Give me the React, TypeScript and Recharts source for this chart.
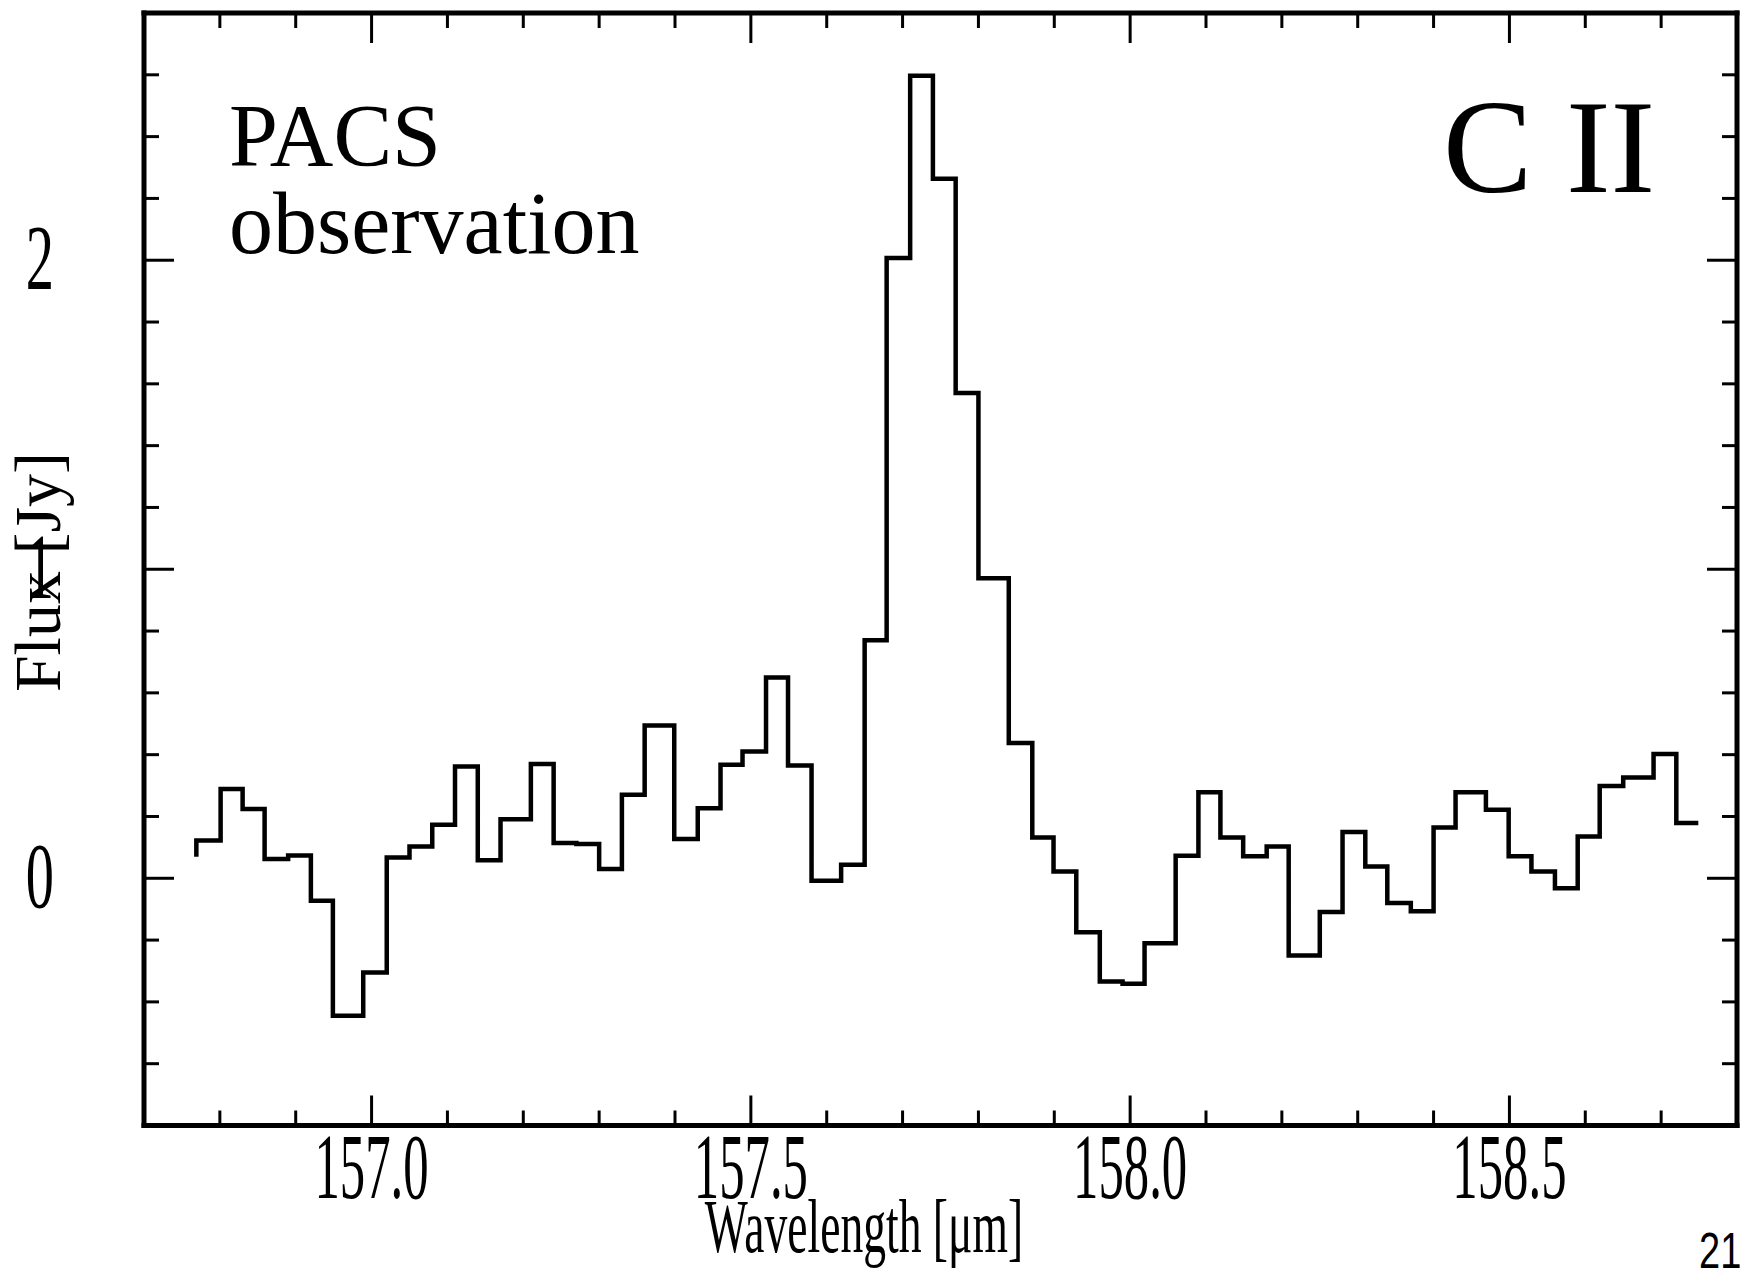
import React from 'react';
import { LineChart, Line, XAxis, YAxis } from 'recharts';

// bin edges of the PACS spectrum [µm]
const wavelengths: number[] = [
  156.769, 156.801, 156.830, 156.859, 156.890, 156.920, 156.949, 156.989, 157.020, 157.050,
  157.080, 157.110, 157.140, 157.170, 157.210, 157.240, 157.270, 157.300, 157.330, 157.360,
  157.399, 157.430, 157.460, 157.489, 157.520, 157.549, 157.580, 157.619, 157.650, 157.679,
  157.710, 157.740, 157.770, 157.800, 157.840, 157.871, 157.899, 157.929, 157.960, 157.990,
  158.019, 158.060, 158.090, 158.119, 158.149, 158.180, 158.209, 158.250, 158.280, 158.310,
  158.339, 158.370, 158.400, 158.429, 158.469, 158.499, 158.529, 158.560, 158.590, 158.619,
  158.650, 158.690, 158.720, 158.749,
];

// flux [Jy], level of each step (drawn step-before)
const flux: number[] = [
  0.070, 0.122, 0.289, 0.224, 0.062, 0.074, -0.073, -0.445, -0.305, 0.067,
  0.103, 0.173, 0.362, 0.058, 0.191, 0.370, 0.114, 0.111, 0.030, 0.270,
  0.494, 0.127, 0.227, 0.367, 0.410, 0.650, 0.365, -0.008, 0.044, 0.770,
  2.007, 2.597, 2.264, 1.570, 0.971, 0.438, 0.132, 0.022, -0.175, -0.334,
  -0.341, -0.210, 0.073, 0.278, 0.132, 0.071, 0.103, -0.250, -0.109, 0.150,
  0.038, -0.080, -0.107, 0.164, 0.278, 0.222, 0.071, 0.022, -0.032, 0.135,
  0.299, 0.326, 0.402, 0.179,
];

const xTicks: number[] = [
  156.8, 156.9, 157.0, 157.1, 157.2, 157.3, 157.4, 157.5, 157.6, 157.7,
  157.8, 157.9, 158.0, 158.1, 158.2, 158.3, 158.4, 158.5, 158.6, 158.7,
];
const xMajorTicks: number[] = [157.0, 157.5, 158.0, 158.5];
const xMajorLabels: string[] = ['157.0', '157.5', '158.0', '158.5'];

const yTicks: number[] = [
  -0.6, -0.4, -0.2, 0, 0.2, 0.4, 0.6, 0.8, 1.0, 1.2, 1.4, 1.6, 1.8, 2.0, 2.2, 2.4, 2.6,
];
const yMajorTicks: number[] = [0, 1, 2];
const yMajorLabels: string[] = ['0', '1', '2'];

const data = wavelengths.map((wl, i) => ({ wl, flux: flux[i] }));

const SERIF = "'Liberation Serif', 'Times New Roman', Times, serif";
const MAJOR = 30;
const MINOR = 15;
// tick numbers are tall and narrow in the original
const TICK_FONT = 94;
const X_SQUEEZE = 0.54;
const Y_SQUEEZE = 0.6;

const majorIndex = (list: number[], v: number) =>
  list.findIndex((m) => Math.abs(m - v) < 1e-6);

const BottomTick = (props: any) => {
  const { x, y, payload } = props;
  const k = majorIndex(xMajorTicks, payload.value);
  return (
    <g>
      <line x1={x} x2={x} y1={y} y2={y - (k >= 0 ? MAJOR : MINOR)} stroke="#000" strokeWidth={3} />
      {k >= 0 && (
        <text
          transform={`translate(${x},${y + 72}) scale(${X_SQUEEZE},1)`}
          textAnchor="middle"
          fontSize={TICK_FONT}
          fontFamily={SERIF}
          fill="#000"
        >
          {xMajorLabels[k]}
        </text>
      )}
    </g>
  );
};

const TopTick = (props: any) => {
  const { x, y, payload } = props;
  const k = majorIndex(xMajorTicks, payload.value);
  return <line x1={x} x2={x} y1={y} y2={y + (k >= 0 ? MAJOR : MINOR)} stroke="#000" strokeWidth={3} />;
};

const LeftTick = (props: any) => {
  const { x, y, payload } = props;
  const k = majorIndex(yMajorTicks, payload.value);
  return (
    <g>
      <line x1={x} x2={x + (k >= 0 ? MAJOR : MINOR)} y1={y} y2={y} stroke="#000" strokeWidth={3} />
      {k >= 0 && (
        <text
          transform={`translate(${x - 90},${y + 29}) scale(${Y_SQUEEZE},1)`}
          textAnchor="end"
          fontSize={TICK_FONT}
          fontFamily={SERIF}
          fill="#000"
        >
          {yMajorLabels[k]}
        </text>
      )}
    </g>
  );
};

const RightTick = (props: any) => {
  const { x, y, payload } = props;
  const k = majorIndex(yMajorTicks, payload.value);
  return <line x1={x} x2={x - (k >= 0 ? MAJOR : MINOR)} y1={y} y2={y} stroke="#000" strokeWidth={3} />;
};

const frame = { stroke: '#000', strokeWidth: 5, strokeLinecap: 'square' as const };

export default function App() {
  return (
    <div style={{ position: 'absolute', left: 0, top: 0, width: 1741, height: 1269, background: '#fff' }}>
      <LineChart width={1741} height={1269} data={data} margin={{ top: 0, right: 0, bottom: 0, left: 0 }}>
        <XAxis
          dataKey="wl"
          type="number"
          domain={[156.7, 158.8]}
          ticks={xTicks}
          interval={0}
          allowDataOverflow
          height={143.5}
          tickSize={0}
          tickMargin={0}
          tickLine={false}
          axisLine={frame}
          tick={<BottomTick />}
        />
        <XAxis
          xAxisId="top"
          orientation="top"
          dataKey="wl"
          type="number"
          domain={[156.7, 158.8]}
          ticks={xTicks}
          interval={0}
          allowDataOverflow
          height={13}
          tickSize={0}
          tickMargin={0}
          tickLine={false}
          axisLine={frame}
          tick={<TopTick />}
        />
        <YAxis
          type="number"
          domain={[-0.8, 2.8]}
          ticks={yTicks}
          interval={0}
          allowDataOverflow
          width={144}
          tickSize={0}
          tickMargin={0}
          tickLine={false}
          axisLine={frame}
          tick={<LeftTick />}
        />
        <YAxis
          yAxisId="right"
          orientation="right"
          type="number"
          domain={[-0.8, 2.8]}
          ticks={yTicks}
          interval={0}
          allowDataOverflow
          width={4}
          tickSize={0}
          tickMargin={0}
          tickLine={false}
          axisLine={frame}
          tick={<RightTick />}
        />
        <Line
          type="stepBefore"
          dataKey="flux"
          stroke="#000"
          strokeWidth={4.5}
          dot={false}
          activeDot={false}
          isAnimationActive={false}
        />
      </LineChart>

      {/* axis titles and annotations */}
      <svg
        width={1741}
        height={1269}
        style={{ position: 'absolute', left: 0, top: 0, pointerEvents: 'none' }}
      >
        <text transform="translate(864,1252) scale(0.6,1)" textAnchor="middle" fontSize={76} fontFamily={SERIF}>
          Wavelength [μm]
        </text>
        <text transform="translate(60,572) rotate(-90)" textAnchor="middle" fontSize={66} fontFamily={SERIF}>
          Flux [Jy]
        </text>
        <text x={229} y={165} fontSize={88} fontFamily={SERIF}>
          PACS
        </text>
        <text x={229} y={253} fontSize={88} fontFamily={SERIF}>
          observation
        </text>
        <text x={1443} y={192} fontSize={134} fontFamily={SERIF}>
          C II
        </text>
        <text transform="translate(1699,1268) scale(0.76,1)" fontSize={50} fontFamily="'Liberation Sans', Arial, sans-serif">
          21
        </text>
      </svg>
    </div>
  );
}
